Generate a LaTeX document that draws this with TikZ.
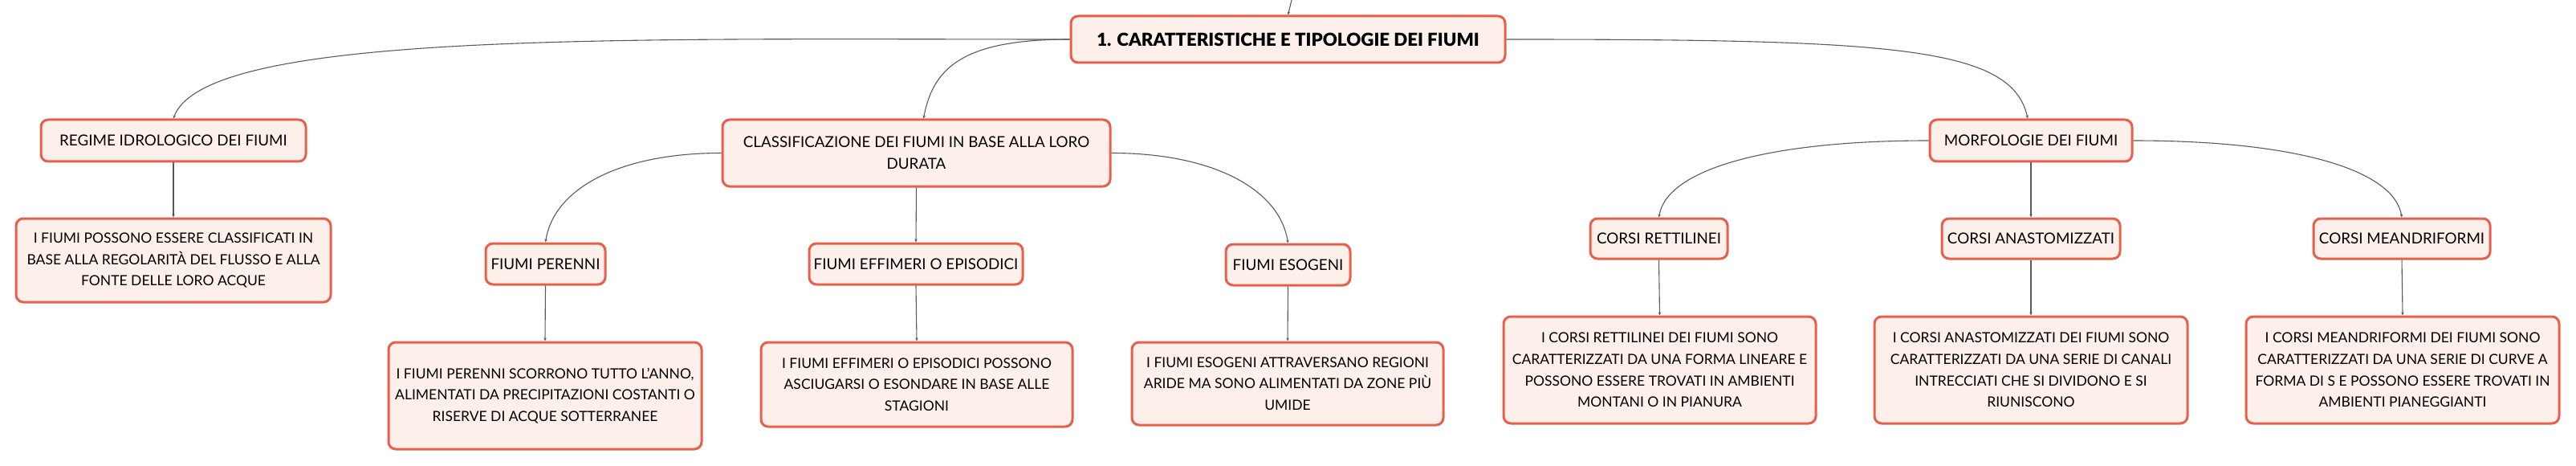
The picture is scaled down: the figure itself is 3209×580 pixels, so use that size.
\documentclass[tikz,border=0pt]{standalone}
\usepackage{fontspec}
\setmainfont{Lato}
\newfontfamily\rootfont{Lato}[UprightFont={* Black}]
\usetikzlibrary{arrows.meta}
\definecolor{boxfill}{HTML}{FDEFEA}
\definecolor{boxline}{HTML}{E8604C}
\definecolor{linkcol}{HTML}{5A5A5A}
\tikzset{
  box/.style={draw=boxline, fill=boxfill, line width=3pt, rounded corners=9pt,
    align=center, inner sep=0pt, text=black,
    font=\fontsize{18.8}{26.7}\selectfont},
  descbox/.style={box, font=\fontsize{17.5}{26.7}\selectfont},
  link/.style={draw=linkcol, line width=1.1pt, -{Stealth[length=4pt,width=3.5pt]}},
}
\begin{document}
\begin{tikzpicture}[x=1pt,y=-1pt]
\useasboundingbox (0,0) rectangle (3209,580);
% nodes
\node[box, minimum width=541pt, minimum height=58pt, font=\rootfont\fontsize{22.3}{27}\selectfont] (root) at (1604.5,49) {1. CARATTERISTICHE E TIPOLOGIE DEI FIUMI};
\coordinate (top) at (1609,0);

\node[box, minimum width=330pt, minimum height=52pt] (regime) at (216,175) {REGIME IDROLOGICO DEI FIUMI};
\node[descbox, minimum width=392pt, minimum height=104pt] (regimeD) at (216,324) {I FIUMI POSSONO ESSERE CLASSIFICATI IN\\BASE ALLA REGOLARITÀ DEL FLUSSO E ALLA\\FONTE DELLE LORO ACQUE};

\node[box, minimum width=483pt, minimum height=83pt] (classif) at (1141.5,190.5) {CLASSIFICAZIONE DEI FIUMI IN BASE ALLA LORO\\DURATA};
\node[box, minimum width=149pt, minimum height=51pt] (perenni) at (679.5,328.5) {FIUMI PERENNI};
\node[descbox, minimum width=390pt, minimum height=133pt] (perenniD) at (679,492.5) {I FIUMI PERENNI SCORRONO TUTTO L’ANNO,\\ALIMENTATI DA PRECIPITAZIONI COSTANTI O\\RISERVE DI ACQUE SOTTERRANEE};
\node[box, minimum width=266pt, minimum height=51pt] (effimeri) at (1141,328.5) {FIUMI EFFIMERI O EPISODICI};
\node[descbox, minimum width=388pt, minimum height=105pt] (effimeriD) at (1142,478.5) {I FIUMI EFFIMERI O EPISODICI POSSONO\\ASCIUGARSI O ESONDARE IN BASE ALLE\\STAGIONI};
\node[box, minimum width=155pt, minimum height=51pt] (esogeni) at (1604.5,329.5) {FIUMI ESOGENI};
\node[descbox, minimum width=388pt, minimum height=103pt] (esogeniD) at (1604,477.5) {I FIUMI ESOGENI ATTRAVERSANO REGIONI\\ARIDE MA SONO ALIMENTATI DA ZONE PIÙ\\UMIDE};

\node[box, minimum width=252pt, minimum height=52pt] (morf) at (2530,175) {MORFOLOGIE DEI FIUMI};
\node[box, minimum width=171pt, minimum height=50pt] (rett) at (2066.5,297) {CORSI RETTILINEI};
\node[descbox, minimum width=389pt, minimum height=133pt] (rettD) at (2067.5,460.5) {I CORSI RETTILINEI DEI FIUMI SONO\\CARATTERIZZATI DA UNA FORMA LINEARE E\\POSSONO ESSERE TROVATI IN AMBIENTI\\MONTANI O IN PIANURA};
\node[box, minimum width=222pt, minimum height=50pt] (anast) at (2530,297) {CORSI ANASTOMIZZATI};
\node[descbox, minimum width=390pt, minimum height=133pt] (anastD) at (2530,460.5) {I CORSI ANASTOMIZZATI DEI FIUMI SONO\\CARATTERIZZATI DA UNA SERIE DI CANALI\\INTRECCIATI CHE SI DIVIDONO E SI\\RIUNISCONO};
\node[box, minimum width=220pt, minimum height=50pt] (meandr) at (2992,297) {CORSI MEANDRIFORMI};
\node[descbox, minimum width=390pt, minimum height=133pt] (meandrD) at (2993,460.5) {I CORSI MEANDRIFORMI DEI FIUMI SONO\\CARATTERIZZATI DA UNA SERIE DI CURVE A\\FORMA DI S E POSSONO ESSERE TROVATI IN\\AMBIENTI PIANEGGIANTI};

% connectors
\draw[link] (top) -- (root.north);
\draw[link] (root.west) .. controls +(-550,0) and +(40,-110) .. (regime.north);
\draw[link] (root.west) .. controls +(-130,0) and +(12,-65) .. ([xshift=9pt]classif.north);
\draw[link] (root.east) .. controls +(480,0) and +(-20,-90) .. ([xshift=-4pt]morf.north);

\draw[link] (classif.west) .. controls +(-130,0) and +(10,-65) .. (perenni.north);
\draw[link] (classif.east) .. controls +(130,0) and +(-10,-65) .. (esogeni.north);
\draw[link] (classif.south) -- (effimeri.north);

\draw[link] (morf.west) .. controls +(-200,0) and +(10,-60) .. (rett.north);
\draw[link] (morf.east) .. controls +(200,0) and +(-10,-60) .. (meandr.north);
\draw[link] (morf.south) -- (anast.north);

\draw[link] (regime.south) -- (regimeD.north);
\draw[link] (perenni.south) -- (perenniD.north);
\draw[link] (effimeri.south) -- (effimeriD.north);
\draw[link] (esogeni.south) -- (esogeniD.north);
\draw[link] (rett.south) -- (rettD.north);
\draw[link] (anast.south) -- (anastD.north);
\draw[link] (meandr.south) -- (meandrD.north);
\end{tikzpicture}
\end{document}
